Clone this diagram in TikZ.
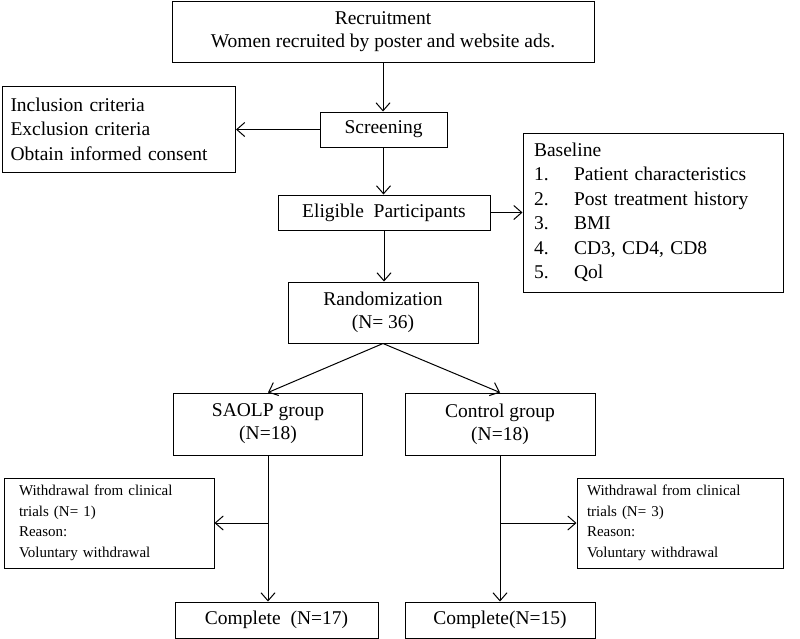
\documentclass[tikz,border=0pt]{standalone}
\usepackage{fontspec}
\setmainfont{Liberation Serif}
\usetikzlibrary{arrows.meta}
\begin{document}
\begin{tikzpicture}[x=1pt,y=-1pt,
  box/.style={draw,line width=1pt,inner sep=0pt,align=center,font=\fontsize{19.5}{23}\selectfont},
  lbox/.style={box,align=left,font=\fontsize{19.5}{24.5}\selectfont},
  sbox/.style={box,align=left,font=\fontsize{15}{20.5}\selectfont},
  arr/.style={line width=1pt,-{Straight Barb[length=8pt,width=14pt]}},
  ln/.style={line width=1pt}]
\useasboundingbox (0,0) rectangle (800,638);
\node[box,minimum width=422,minimum height=61] (rec) at (383,31.5) {Recruitment\\Women recruited by poster and website ads.};
\node[box,minimum width=127,minimum height=35] (scr) at (383.5,129.5) {Screening};
\node[lbox,minimum height=86,text width=217,inner xsep=8] (inc) at (119,129) {Inclusion criteria\\Exclusion criteria\\Obtain informed consent};
\node[box,minimum width=212,minimum height=35] (elig) at (384,212.5) {Eligible\ \ Participants};
\node[lbox,minimum height=159,text width=238,inner xsep=11] (base) at (653,212.5) {Baseline\\\makebox[40pt][l]{1.}Patient characteristics\\\makebox[40pt][l]{2.}Post treatment history\\\makebox[40pt][l]{3.}BMI\\\makebox[40pt][l]{4.}CD3, CD4, CD8\\\makebox[40pt][l]{5.}Qol};
\node[box,minimum width=190,minimum height=61] (rand) at (383,312.5) {Randomization\\(N= 36)};
\node[box,minimum width=189,minimum height=62] (sa) at (268,424) {SAOLP group\\(N=18)};
\node[box,minimum width=190,minimum height=62] (co) at (500,424) {Control group\\(N=18)};
\node[sbox,minimum height=90,text width=180,inner xsep=15] (wl) at (109,523) {Withdrawal from clinical\\trials (N= 1)\\Reason:\\Voluntary withdrawal};
\node[sbox,minimum height=90,text width=186,inner xsep=10] (wr) at (680,523) {Withdrawal from clinical\\trials (N= 3)\\Reason:\\Voluntary withdrawal};
\node[box,minimum width=203,minimum height=36] (cl) at (276.5,620) {Complete\ \ (N=17)};
\node[box,minimum width=190,minimum height=36] (cr) at (500,620) {Complete(N=15)};
\draw[arr] (rec.south) -- (rec.south |- scr.north);
\draw[arr] (scr.west) -- (scr.west -| inc.east);
\draw[arr] (scr.south) -- (scr.south |- elig.north);
\draw[arr] (elig.east) -- (elig.east -| base.west);
\draw[arr] (elig.south) -- (elig.south |- rand.north);
\draw[arr] (rand.south) -- (sa.north);
\draw[arr] (rand.south) -- (co.north);
\draw[arr] (sa.south) -- (sa.south |- cl.north);
\draw[arr] (co.south) -- (co.south |- cr.north);
\coordinate (bl) at (sa.south |- wl.east);
\coordinate (br) at (co.south |- wr.west);
\draw[arr] (bl) -- (wl.east);
\draw[arr] (br) -- (wr.west);
\end{tikzpicture}
\end{document}
